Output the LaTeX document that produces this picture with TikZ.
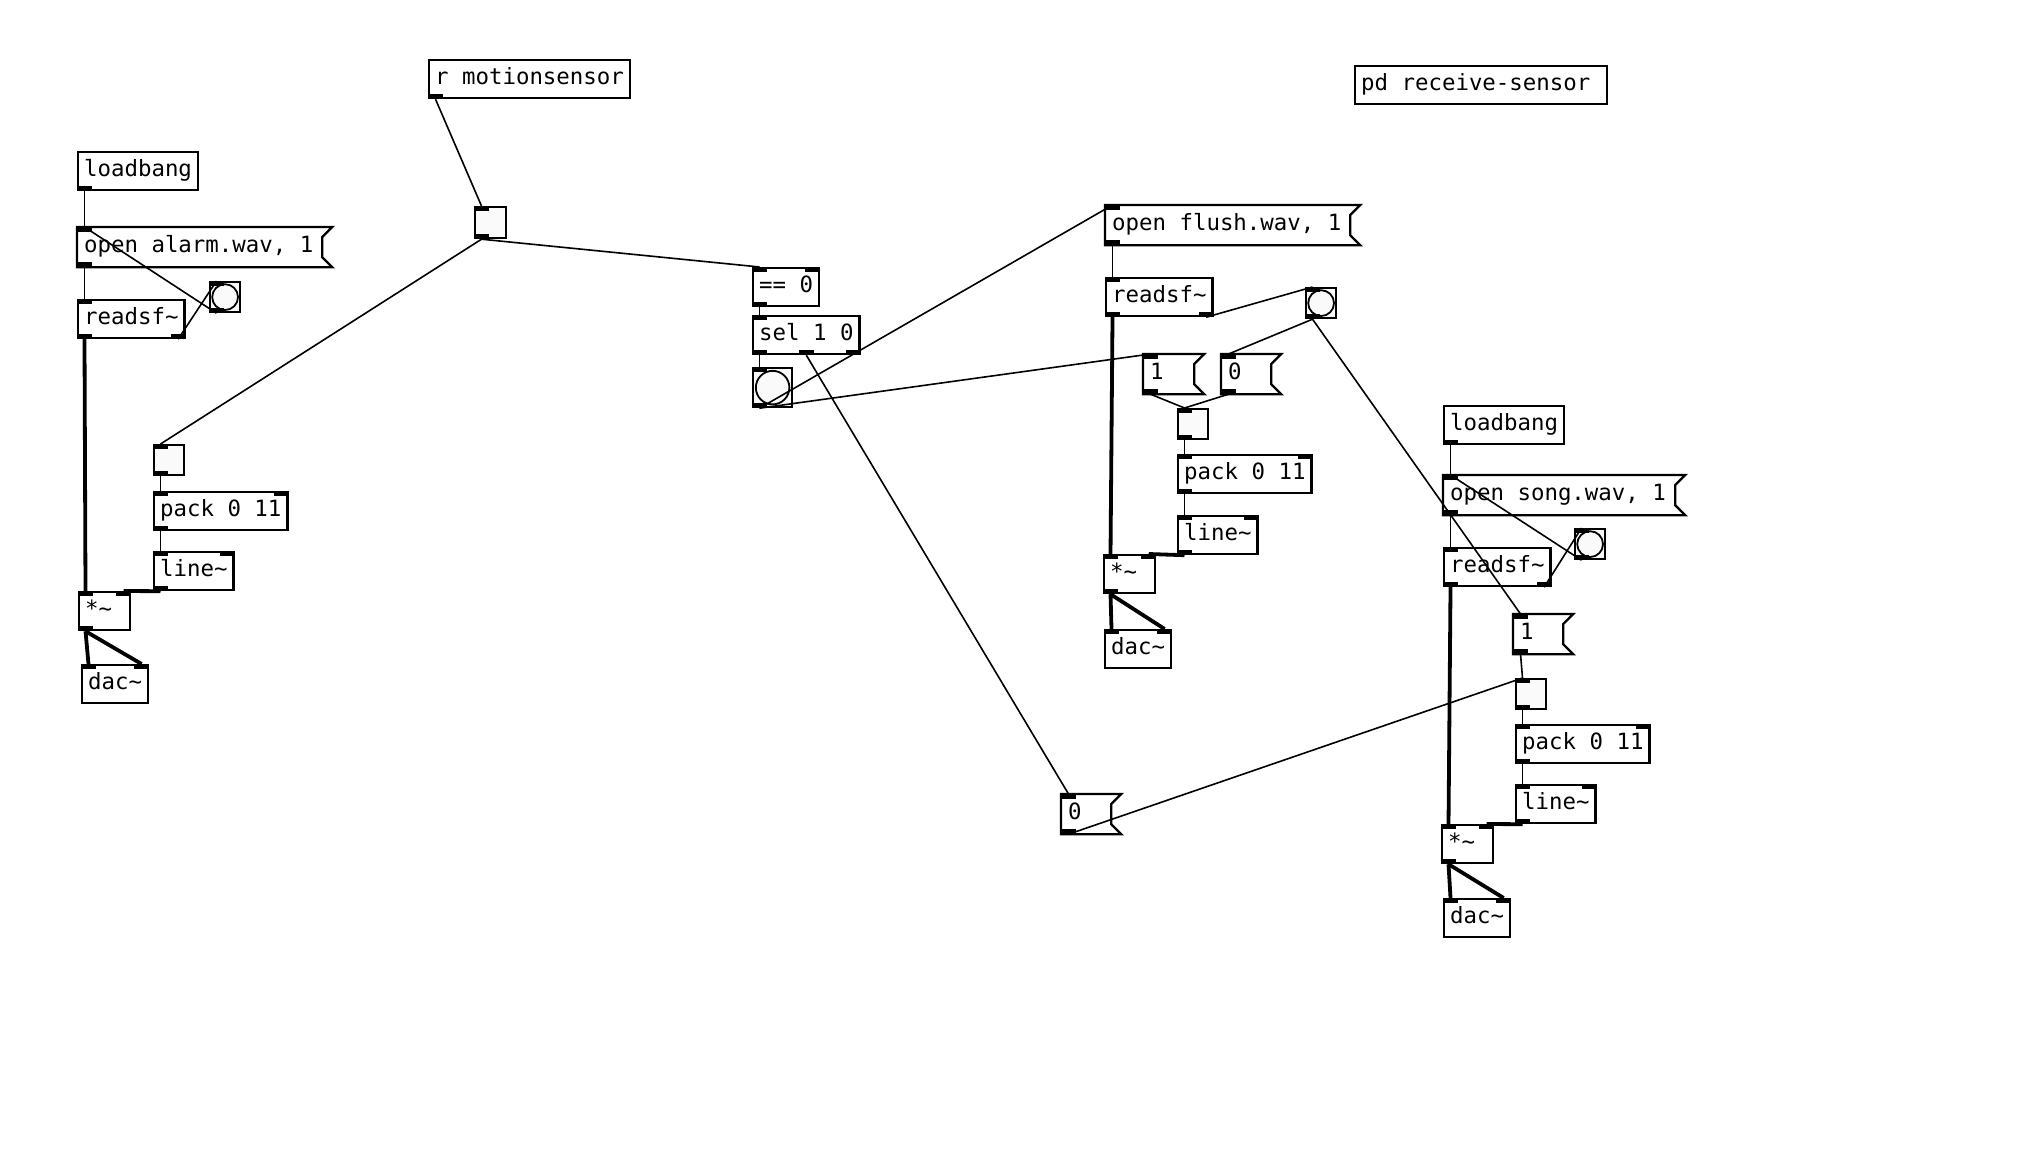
\documentclass[tikz,border=0pt]{standalone}
\usepackage{fontspec}
\newfontfamily\pdmono{DejaVu Sans Mono}
\newcommand{\pdfont}{\pdmono\fontsize{5.6}{6}\selectfont}
\tikzstyle{obj} = [rectangle, draw=black, line width=0.55pt, anchor=north west, minimum height=9.5pt, inner xsep=1.5pt, inner ysep=0pt, text height=4.2pt, text depth=1.3pt, font=\pdfont]
\tikzstyle{msg} = [obj, draw=none]
\tikzstyle{gui} = [rectangle, draw=black, line width=0.55pt, anchor=north west, fill=white!98!black, inner sep=0pt, minimum size=7.5pt]
\tikzset{bng/.style={gui, minimum size=#1, path picture={\draw [line width=0.45pt] (path picture bounding box.center) circle ({0.43*#1});}}, bng/.default=7.5pt}
\tikzstyle{cord} = [line width=0.4pt]
\tikzstyle{sig} = [line width=0.95pt]

\begin{document}
\begin{tikzpicture}[x=0.25pt, y=-0.25pt]
\fill [white] (0,0) rectangle (2030,1156);
\useasboundingbox (0,0) rectangle (2030,1156);

% alarm
\node (lbA) [obj] at (77,151) {loadbang};
\node (msgA) [msg] at (77,227) {\makebox[60.25pt][l]{open alarm.wav, 1}};
\node (bngA) [bng] at (209,281) {};
\node (rsfA) [obj] at (77,299) {readsf\textasciitilde};
\node (tglA) [gui] at (153,444) {};
\node (packA) [obj] at (153,491) {pack 0 11};
\node (lineA) [obj] at (153,551) {line\textasciitilde};
\node (mulA) [obj] at (78,591) {\makebox[9.75pt][l]{*\textasciitilde}};
\node (dacA) [obj] at (81,664) {dac\textasciitilde};

% sensor
\node (rcv) [obj] at (428,59) {r motionsensor};
\node (tglM) [gui, minimum size=7.75pt] at (474,206) {};
\node (eq) [obj] at (752,267) {== 0};
\node (sel) [obj] at (752,315) {sel 1 0};
\node (bngM) [bng=9.75pt] at (752,367) {};
\node (msgZ) [msg] at (1061,794) {\makebox[11.5pt][l]{0}};
\node (pd) [obj] at (1354,65) {\makebox[60pt][l]{pd receive-sensor}};

% flush
\node (msgF) [msg] at (1105,205) {\makebox[60.25pt][l]{open flush.wav, 1}};
\node (rsfF) [obj] at (1105,277) {readsf\textasciitilde};
\node (bngF) [bng] at (1305,287) {};
\node (msgF1) [msg] at (1143,354) {\makebox[11.75pt][l]{1}};
\node (msgF0) [msg] at (1221,354) {\makebox[11.5pt][l]{0}};
\node (tglF) [gui] at (1177,408) {};
\node (packF) [obj] at (1177,454) {pack 0 11};
\node (lineF) [obj] at (1177,515) {line\textasciitilde};
\node (mulF) [obj] at (1103,554) {\makebox[9.75pt][l]{*\textasciitilde}};
\node (dacF) [obj] at (1104,629) {dac\textasciitilde};

% song
\node (lbS) [obj] at (1443,405) {loadbang};
\node (msgS) [msg] at (1443,475) {\makebox[57pt][l]{open song.wav, 1}};
\node (bngS) [bng] at (1574,528) {};
\node (rsfS) [obj] at (1443,547) {readsf\textasciitilde};
\node (msgS1) [msg] at (1513,614) {\makebox[11.5pt][l]{1}};
\node (tglS) [gui] at (1515,678) {};
\node (packS) [obj] at (1515,724) {pack 0 11};
\node (lineS) [obj] at (1515,784) {line\textasciitilde};
\node (mulS) [obj] at (1441,824) {\makebox[9.75pt][l]{*\textasciitilde}};
\node (dacS) [obj] at (1443,898) {dac\textasciitilde};

% message box flags
\foreach \n in {msgA,msgF,msgS,msgF1,msgF0,msgS1,msgZ}
  \draw [line width=0.55pt] (\n.north west) -- (\n.north east) -- ([xshift=-2.5pt,yshift=-2.5pt]\n.north east) -- ([xshift=-2.5pt,yshift=2.5pt]\n.south east) -- (\n.south east) -- (\n.south west) -- cycle;

% inlets and outlets
\foreach \n in {msgA,rsfA,bngA,tglA,packA,lineA,mulA,dacA,tglM,eq,sel,bngM,msgZ,msgF,rsfF,bngF,msgF1,msgF0,tglF,packF,lineF,mulF,dacF,msgS,rsfS,bngS,msgS1,tglS,packS,lineS,mulS,dacS} {
  \fill (\n.north west) rectangle ++(15,5);
  \coordinate (\n-i) at ([xshift=1.875pt]\n.north west);
}
\foreach \n in {packA,lineA,mulA,dacA,eq,packF,lineF,mulF,dacF,packS,lineS,mulS,dacS} {
  \fill (\n.north east) rectangle ++(-15,5);
  \coordinate (\n-r) at ([xshift=-1.875pt]\n.north east);
}
\foreach \n in {lbA,msgA,rsfA,bngA,tglA,packA,lineA,mulA,rcv,tglM,eq,sel,bngM,msgZ,msgF,rsfF,bngF,msgF1,msgF0,tglF,packF,lineF,mulF,lbS,msgS,rsfS,bngS,msgS1,tglS,packS,lineS,mulS} {
  \fill (\n.south west) rectangle ++(15,-5);
  \coordinate (\n-o) at ([xshift=1.875pt]\n.south west);
}
\foreach \n in {rsfA,rsfF,rsfS,sel} {
  \fill (\n.south east) rectangle ++(-15,-5);
  \coordinate (\n-or) at ([xshift=-1.875pt]\n.south east);
}
\fill ([xshift=-1.875pt]sel.south) rectangle ++(15,-5);
\coordinate (sel-om) at (sel.south);

% cords
\draw [cord] (lbA-o) -- (msgA-i);
\draw [cord] (msgA-o) -- (rsfA-i);
\draw [cord] (bngA-o) -- (msgA-i);
\draw [cord] (rsfA-or) -- (bngA-i);
\draw [sig] (rsfA-o) -- (mulA-i);
\draw [cord] (tglA-o) -- (packA-i);
\draw [cord] (packA-o) -- (lineA-i);
\draw [sig] (lineA-o) -- (mulA-r);
\draw [sig] (mulA-o) -- (dacA-i);
\draw [sig] (mulA-o) -- (dacA-r);

\draw [cord] (rcv-o) -- (tglM-i);
\draw [cord] (tglM-o) -- (tglA-i);
\draw [cord] (tglM-o) -- (eq-i);
\draw [cord] (eq-o) -- (sel-i);
\draw [cord] (sel-o) -- (bngM-i);
\draw [cord] (sel-om) -- (msgZ-i);
\draw [cord] (bngM-o) -- (msgF-i);
\draw [cord] (bngM-o) -- (msgF1-i);
\draw [cord] (msgZ-o) -- (tglS-i);

\draw [cord] (msgF-o) -- (rsfF-i);
\draw [cord] (rsfF-or) -- (bngF-i);
\draw [cord] (bngF-o) -- (msgF0-i);
\draw [cord] (bngF-o) -- (msgS1-i);
\draw [cord] (msgF1-o) -- (tglF-i);
\draw [cord] (msgF0-o) -- (tglF-i);
\draw [cord] (tglF-o) -- (packF-i);
\draw [cord] (packF-o) -- (lineF-i);
\draw [sig] (rsfF-o) -- (mulF-i);
\draw [sig] (lineF-o) -- (mulF-r);
\draw [sig] (mulF-o) -- (dacF-i);
\draw [sig] (mulF-o) -- (dacF-r);

\draw [cord] (lbS-o) -- (msgS-i);
\draw [cord] (msgS-o) -- (rsfS-i);
\draw [cord] (bngS-o) -- (msgS-i);
\draw [cord] (rsfS-or) -- (bngS-i);
\draw [cord] (msgS1-o) -- (tglS-i);
\draw [cord] (tglS-o) -- (packS-i);
\draw [cord] (packS-o) -- (lineS-i);
\draw [sig] (rsfS-o) -- (mulS-i);
\draw [sig] (lineS-o) -- (mulS-r);
\draw [sig] (mulS-o) -- (dacS-i);
\draw [sig] (mulS-o) -- (dacS-r);
\end{tikzpicture}
\end{document}
